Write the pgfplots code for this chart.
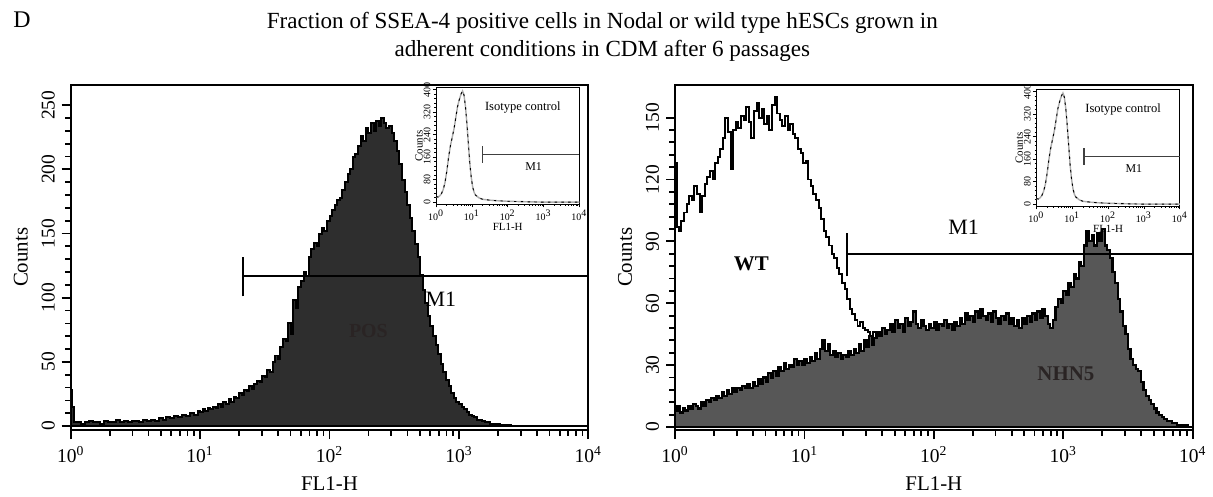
\documentclass[border=0pt]{standalone}
\usepackage{fontspec}
\setmainfont{Liberation Serif}
\usepackage{pgfplots}
\pgfplotsset{compat=1.18}

\definecolor{posfill}{HTML}{2E2E2E}
\definecolor{nhnfill}{HTML}{575757}
\definecolor{labdark}{HTML}{2A2424}

\pgfplotsset{
  logdec/.style={
    xmin=0, xmax=4,
    xtick={0,1,2,3,4},
    xticklabels={10\textsuperscript{0},10\textsuperscript{1},10\textsuperscript{2},10\textsuperscript{3},10\textsuperscript{4}},
    minor xtick={0.301,0.477,0.602,0.699,0.778,0.845,0.903,0.954,
      1.301,1.477,1.602,1.699,1.778,1.845,1.903,1.954,
      2.301,2.477,2.602,2.699,2.778,2.845,2.903,2.954,
      3.301,3.477,3.602,3.699,3.778,3.845,3.903,3.954},
    scale only axis, anchor=south west,
    tick align=outside, tick pos=left,
    /pgf/number format/assume math mode=true,
    yticklabel style={rotate=90, anchor=south},
    axis background/.style={fill=white},
    xlabel={FL1-H}, ylabel={Counts},
  },
  facs/.style={
    logdec, width=260pt, height=173.5pt,
    major tick length=4.5pt, minor tick length=2.8pt,
    every tick/.style={black, line width=0.9pt},
    axis line style={line width=1pt},
    ticklabel style={font=\fontsize{9.8}{10}\selectfont},
    label style={font=\fontsize{10.5}{12}\selectfont},
  },
  inset/.style={
    logdec, width=72pt, height=58.5pt,
    ymin=-7, ymax=407, ytick={0,80,...,400}, minor y tick num=4,
    major tick length=1.6pt, minor tick length=0.9pt,
    every tick/.style={black, line width=0.4pt},
    axis line style={line width=0.5pt},
    ticklabel style={font=\fontsize{5}{5}\selectfont, inner sep=1pt},
    label style={font=\fontsize{5.5}{6}\selectfont},
    xlabel style={yshift=3pt}, ylabel style={yshift=-4pt},
  },
}

\pgfplotstableread{
x y
0.00 20
0.05 18
0.10 22
0.15 30
0.20 45
0.25 70
0.30 110
0.35 160
0.40 200
0.45 230
0.50 260
0.55 300
0.60 340
0.65 365
0.70 385
0.74 395
0.78 380
0.82 340
0.86 280
0.90 210
0.94 140
0.98 90
1.02 55
1.06 35
1.10 25
1.20 15
1.30 10
1.50 7
1.70 5
2.00 3
2.30 2
2.60 1
3.00 0
4.00 0
}\isotype

\begin{document}
\begin{tikzpicture}
\path (0,0) rectangle (606.5pt,248pt);
\node[align=center, font=\fontsize{11.6}{14}\selectfont] at (302.5pt,229.5pt)
  {Fraction of SSEA-4 positive cells in Nodal or wild type hESCs grown in\\adherent conditions in CDM after 6 passages};
\node[font=\fontsize{12}{12}\selectfont] at (11pt,238pt) {D};

% ---- left panel: POS
\begin{axis}[facs, at={(35.5pt,32pt)},
  ymin=-3.1, ymax=266, ytick={0,50,...,250}, minor y tick num=4]
\addplot[const plot, fill=posfill, draw=black, line width=1pt] coordinates {
(0.000,28) (0.012,28) (0.013,15) (0.022,15) (0.023,3) (0.05,3) (0.08,2) (0.11,3)
(0.14,4) (0.17,3) (0.20,3) (0.23,2) (0.26,4) (0.29,3) (0.32,3) (0.35,5) (0.38,3)
(0.41,4) (0.44,3) (0.47,4) (0.50,4) (0.53,3) (0.56,5) (0.59,4) (0.62,5) (0.65,4)
(0.68,6) (0.71,5) (0.74,7) (0.77,6) (0.80,8) (0.83,7) (0.86,9) (0.89,8) (0.92,10)
(0.95,9) (0.98,12) (1.00,11) (1.02,13) (1.04,12) (1.06,14) (1.08,13) (1.10,15)
(1.12,14) (1.14,17) (1.16,15) (1.18,19) (1.20,17) (1.22,21) (1.24,19) (1.26,23)
(1.28,22) (1.30,26) (1.32,24) (1.34,28) (1.36,27) (1.38,31) (1.40,29) (1.42,33)
(1.44,35) (1.46,34) (1.48,39) (1.50,38) (1.52,44) (1.54,42) (1.56,50) (1.58,55)
(1.60,52) (1.62,62) (1.64,68) (1.66,66) (1.68,80) (1.70,72) (1.72,98) (1.74,92)
(1.76,108) (1.78,113) (1.80,120) (1.82,117) (1.84,132) (1.86,138) (1.88,143)
(1.90,140) (1.92,150) (1.94,154) (1.96,152) (1.98,160) (2.00,164) (2.02,168)
(2.04,172) (2.06,176) (2.08,178) (2.10,184) (2.12,190) (2.14,196) (2.16,200)
(2.18,210) (2.20,212) (2.22,218) (2.24,226) (2.26,222) (2.28,232) (2.30,228)
(2.32,236) (2.34,230) (2.36,238) (2.38,234) (2.40,240) (2.42,236) (2.44,232)
(2.46,234) (2.48,228) (2.50,222) (2.52,214) (2.54,204) (2.56,192) (2.58,182)
(2.60,172) (2.62,162) (2.64,152) (2.66,142) (2.68,132) (2.70,118) (2.72,106)
(2.74,96) (2.76,86) (2.78,78) (2.80,70) (2.82,63) (2.84,56) (2.86,48) (2.88,42)
(2.90,36) (2.92,31) (2.94,26) (2.96,22) (2.98,19) (3.00,17) (3.02,15) (3.04,13)
(3.06,11) (3.08,9) (3.10,8) (3.12,7) (3.14,5) (3.16,5) (3.18,4) (3.20,3) (3.24,2)
(3.28,2) (3.32,1) (3.36,1) (3.40,0) (4.00,0)
} \closedcycle;
% M1 gate
\addplot[black, line width=0.8pt] coordinates {(1.33,117) (4,117)};
\addplot[black, line width=0.8pt] coordinates {(1.33,101) (1.33,132)};
\node[font=\fontsize{11}{12}\selectfont] at (axis cs:2.86,99) {M1};
\node[font=\fontsize{10}{12}\selectfont\bfseries, text=labdark] at (axis cs:2.30,74) {POS};
\end{axis}

% ---- left inset
\begin{axis}[inset, at={(219pt,145.5pt)}]
\addplot[gray!65, line width=0.7pt] table {\isotype};
\addplot[black, line width=0.45pt, dash pattern=on 1.2pt off 2.2pt] table {\isotype};
\addplot[black!75, line width=0.6pt] coordinates {(1.30,170) (4,170)};
\addplot[black!75, line width=0.6pt] coordinates {(1.30,140) (1.30,200)};
\node[font=\fontsize{6}{6}\selectfont] at (axis cs:2.72,125) {M1};
\node[font=\fontsize{6.3}{7}\selectfont] at (axis cs:2.42,335) {Isotype control};
\end{axis}

% ---- right panel: WT vs NHN5
\begin{axis}[facs, at={(339pt,32pt)},
  ymin=-1.5, ymax=166, ytick={0,30,...,150}, minor y tick num=4]
\addplot[const plot, black, line width=1pt] coordinates {
(0.000,0) (0.000,128) (0.012,128) (0.013,97) (0.03,95) (0.05,100) (0.07,104)
(0.09,108) (0.11,112) (0.13,110) (0.15,117) (0.17,113) (0.19,104) (0.21,112)
(0.23,118) (0.25,121) (0.27,124) (0.29,120) (0.31,128) (0.33,131) (0.35,135)
(0.37,140) (0.39,150) (0.41,143) (0.43,125) (0.45,144) (0.47,148) (0.49,145)
(0.51,151) (0.53,149) (0.55,155) (0.57,148) (0.59,140) (0.61,153) (0.63,157)
(0.65,150) (0.67,154) (0.69,147) (0.71,151) (0.73,144) (0.75,156) (0.77,160)
(0.79,152) (0.81,149) (0.83,146) (0.85,151) (0.87,144) (0.89,147) (0.91,142)
(0.93,140) (0.95,135) (0.97,133) (0.99,128) (1.01,129) (1.03,120) (1.05,117)
(1.07,113) (1.09,110) (1.11,106) (1.13,101) (1.15,95) (1.17,92) (1.19,88)
(1.21,84) (1.23,82) (1.25,77) (1.27,74) (1.29,70) (1.31,67) (1.33,62) (1.35,57)
(1.37,55) (1.39,52) (1.41,49) (1.43,51) (1.45,48) (1.47,47) (1.49,46) (1.51,41)
(1.53,46) (1.55,39) (1.57,37) (1.59,42) (1.61,36) (1.63,33) (1.66,30) (1.70,28)
(1.75,24) (1.80,20) (1.85,16) (1.90,12) (1.95,9) (2.00,7) (2.10,4) (2.20,3)
(2.40,1) (2.60,0) (4.00,0)
};
\addplot[const plot, fill=nhnfill, draw=black, line width=1.1pt] coordinates {
(0.00,8) (0.02,10) (0.04,7) (0.06,9) (0.08,8) (0.10,10) (0.12,9) (0.14,11)
(0.16,10) (0.18,9) (0.20,12) (0.22,10) (0.24,13) (0.26,12) (0.28,14) (0.30,13)
(0.32,15) (0.34,14) (0.36,17) (0.38,15) (0.40,18) (0.42,16) (0.44,19) (0.46,17)
(0.48,19) (0.50,18) (0.52,20) (0.54,19) (0.56,21) (0.58,19) (0.60,22) (0.62,20)
(0.64,23) (0.66,21) (0.68,24) (0.70,22) (0.72,26) (0.74,24) (0.76,27) (0.78,25)
(0.80,29) (0.82,27) (0.84,31) (0.86,28) (0.88,30) (0.90,29) (0.92,33) (0.94,30)
(0.96,32) (0.98,30) (1.00,33) (1.02,31) (1.04,34) (1.06,32) (1.08,36) (1.10,33)
(1.12,38) (1.14,42) (1.16,37) (1.18,40) (1.20,35) (1.22,37) (1.24,34) (1.26,36)
(1.28,33) (1.30,35) (1.32,34) (1.34,37) (1.36,35) (1.38,38) (1.40,36) (1.42,40)
(1.44,37) (1.46,42) (1.48,39) (1.50,44) (1.52,40) (1.54,43) (1.56,46) (1.58,44)
(1.60,48) (1.62,45) (1.64,47) (1.66,50) (1.68,46) (1.70,52) (1.72,48) (1.74,50)
(1.76,46) (1.78,53) (1.80,49) (1.82,51) (1.84,56) (1.86,50) (1.88,48) (1.90,52)
(1.92,49) (1.94,47) (1.96,50) (1.98,48) (2.00,51) (2.02,47) (2.04,50) (2.06,49)
(2.08,52) (2.10,48) (2.12,50) (2.14,47) (2.16,51) (2.18,49) (2.20,53) (2.22,50)
(2.24,55) (2.26,52) (2.28,54) (2.30,51) (2.32,56) (2.34,53) (2.36,57) (2.38,54)
(2.40,52) (2.42,55) (2.44,51) (2.46,56) (2.48,53) (2.50,50) (2.52,54) (2.54,52)
(2.56,55) (2.58,50) (2.60,53) (2.62,49) (2.64,52) (2.66,48) (2.68,53) (2.70,50)
(2.72,54) (2.74,51) (2.76,55) (2.78,52) (2.80,56) (2.82,53) (2.84,57) (2.86,54)
(2.88,50) (2.90,48) (2.92,52) (2.94,58) (2.96,62) (2.98,60) (3.00,66) (3.02,64)
(3.04,70) (3.06,68) (3.08,74) (3.10,72) (3.12,80) (3.14,78) (3.16,88) (3.18,95)
(3.20,90) (3.22,93) (3.24,88) (3.26,94) (3.28,90) (3.30,96) (3.32,88) (3.34,86)
(3.36,82) (3.38,75) (3.40,70) (3.42,62) (3.44,56) (3.46,49) (3.48,45) (3.50,38)
(3.52,33) (3.54,30) (3.56,28) (3.58,27) (3.60,22) (3.62,18) (3.64,15) (3.66,13)
(3.68,11) (3.70,9) (3.72,7) (3.74,6) (3.76,5) (3.78,4) (3.80,3) (3.84,2) (3.88,1)
(3.92,1) (3.96,0) (4.00,0)
} \closedcycle;
% M1 gate
\addplot[black, line width=0.8pt] coordinates {(1.33,84) (4,84)};
\addplot[black, line width=0.8pt] coordinates {(1.33,73) (1.33,94)};
\node[font=\fontsize{11}{12}\selectfont] at (axis cs:2.23,97) {M1};
\node[font=\fontsize{10.5}{12}\selectfont\bfseries] at (axis cs:0.59,79) {WT};
\node[font=\fontsize{10.5}{12}\selectfont\bfseries, text=labdark] at (axis cs:3.02,26) {NHN5};
\end{axis}

% ---- right inset
\begin{axis}[inset, at={(520.5pt,144.5pt)}]
\addplot[gray!65, line width=0.7pt] table {\isotype};
\addplot[black, line width=0.45pt, dash pattern=on 1.2pt off 2.2pt] table {\isotype};
\addplot[black!75, line width=0.6pt] coordinates {(1.33,170) (4,170)};
\addplot[black!75, line width=0.6pt] coordinates {(1.33,140) (1.33,200)};
\node[font=\fontsize{6}{6}\selectfont] at (axis cs:2.72,125) {M1};
\node[font=\fontsize{6.3}{7}\selectfont] at (axis cs:2.42,335) {Isotype control};
\end{axis}
\end{tikzpicture}
\end{document}
